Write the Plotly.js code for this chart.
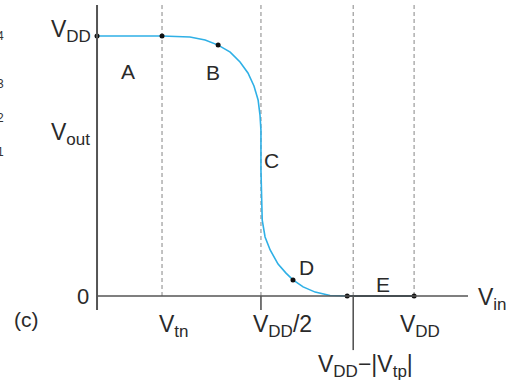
<!DOCTYPE html>
<html>
<head>
<meta charset="utf-8">
<script src="https://cdn.plot.ly/plotly-3.0.1.min.js"></script>
<style>
  html, body { margin: 0; padding: 0; background: #fff; }
  #chart { width: 520px; height: 390px; }
</style>
</head>
<body>
<div id="chart"></div>
<script>
// CMOS inverter voltage transfer characteristic, voltages in units of VDD
const VDD = 1.0;
const VTN = 0.205;
const VHALF = 0.517;
const VDD_MINUS_VTP = 0.808;

// Vout versus Vin
const vin  = [0.000, 0.205, 0.293, 0.341, 0.382, 0.420, 0.451, 0.476, 0.495, 0.508, 0.514, 0.517,
              0.517, 0.519, 0.521, 0.530, 0.546, 0.571, 0.596, 0.618, 0.650, 0.688, 0.735, 0.789];
const vout = [1.000, 1.000, 0.996, 0.985, 0.965, 0.938, 0.900, 0.858, 0.808, 0.754, 0.696, 0.638,
              0.485, 0.331, 0.292, 0.227, 0.177, 0.123, 0.088, 0.062, 0.035, 0.015, 0.002, 0.000];

// region E: output held at ground
const eVin  = [0.789, 1.000];
const eVout = [0.000, 0.000];

// marked operating points
const dotVin  = [0.000, 0.205, 0.382, 0.618, 0.789, 1.000];
const dotVout = [1.000, 1.000, 0.965, 0.062, 0.000, 0.000];

// region letters
const regionNames = ['A', 'B', 'C', 'D', 'E'];
const regionX = [0.098, 0.366, 0.549, 0.662, 0.902];
const regionY = [0.862, 0.858, 0.523, 0.108, 0.046];

// stray numbers from the neighbouring panel
const sideNums = ['4', '3', '2', '1'];
const sideY = [1.0, 0.815, 0.685, 0.554];

const ink = '#2a2a2a';
const axisCol = '#555555';
const dashCol = '#9a9a9a';
const font = 'Liberation Sans, Arial, sans-serif';

// subscript with a slightly larger size than the default 70%
const sub = s => '<sub><span style="font-size:17px">' + s + '</span></sub>';

const traces = [
  { x: vin, y: vout, mode: 'lines', line: { color: '#2fb0e6', width: 1.6 }, hoverinfo: 'skip' },
  { x: eVin, y: eVout, mode: 'lines', line: { color: '#1f3a48', width: 1.8 }, hoverinfo: 'skip' },
  { x: dotVin, y: dotVout, mode: 'markers', marker: { color: '#111', size: 5 }, hoverinfo: 'skip' }
];

const yTop = 1.119, yAxisBottom = -0.054, xAxisEnd = 1.170;

const shapes = [];
// dashed guides
[VTN, VHALF, VDD_MINUS_VTP, VDD].forEach(v => {
  shapes.push({ type: 'line', xref: 'x', yref: 'y', x0: v, x1: v, y0: 0, y1: yTop,
    line: { color: dashCol, width: 1.2, dash: '4px,3px' }, layer: 'below' });
});
// axes
shapes.push({ type: 'line', xref: 'x', yref: 'y', x0: 0, x1: 0, y0: yAxisBottom, y1: yTop,
  line: { color: axisCol, width: 2 } });
shapes.push({ type: 'line', xref: 'x', yref: 'y', x0: 0, x1: xAxisEnd, y0: 0, y1: 0,
  line: { color: axisCol, width: 1.6 } });
// tick marks below the axis
shapes.push({ type: 'line', xref: 'x', yref: 'y', x0: VHALF, x1: VHALF, y0: 0, y1: -0.054,
  line: { color: axisCol, width: 1.6 } });
shapes.push({ type: 'line', xref: 'x', yref: 'y', x0: VDD_MINUS_VTP, x1: VDD_MINUS_VTP, y0: 0, y1: -0.208,
  line: { color: axisCol, width: 1.6 } });

function label(text, x, y, xanchor, size, color) {
  return { text: text, x: x, y: y, xref: 'x', yref: 'y', showarrow: false,
    xanchor: xanchor, yanchor: 'middle', font: { family: font, size: size || 23, color: color || ink } };
}

const annotations = [
  label('V' + sub('DD'), -0.013, 1.02, 'right'),
  label('V' + sub('out'), -0.016, 0.625, 'right'),
  label('0', -0.020, 0.0, 'right', 22),
  label('(c)', -0.221, -0.092, 'center', 21),
  label('V' + sub('in'), 1.196, -0.012, 'left'),
  label('V' + sub('tn'), 0.189, -0.115, 'left'),
  label('V' + sub('DD') + '/2', 0.486, -0.115, 'left'),
  label('V' + sub('DD'), 0.950, -0.115, 'left'),
  label('V' + sub('DD') + '\u2212|V' + sub('tp') + '|', 0.691, -0.27, 'left')
];
regionNames.forEach((n, i) => annotations.push(label(n, regionX[i], regionY[i], 'center', 21)));
sideNums.forEach((n, i) => annotations.push(label(n, -0.287, sideY[i], 'right', 12, '#333')));

const layout = {
  width: 520, height: 390,
  margin: { l: 0, r: 0, t: 0, b: 0 },
  paper_bgcolor: '#fff', plot_bgcolor: '#fff',
  showlegend: false,
  xaxis: { range: [-0.306, 1.334], visible: false, fixedrange: true },
  yaxis: { range: [-0.3615, 1.1385], visible: false, fixedrange: true },
  shapes: shapes,
  annotations: annotations
};

Plotly.newPlot('chart', traces, layout, { displayModeBar: false, staticPlot: true });
</script>
</body>
</html>
